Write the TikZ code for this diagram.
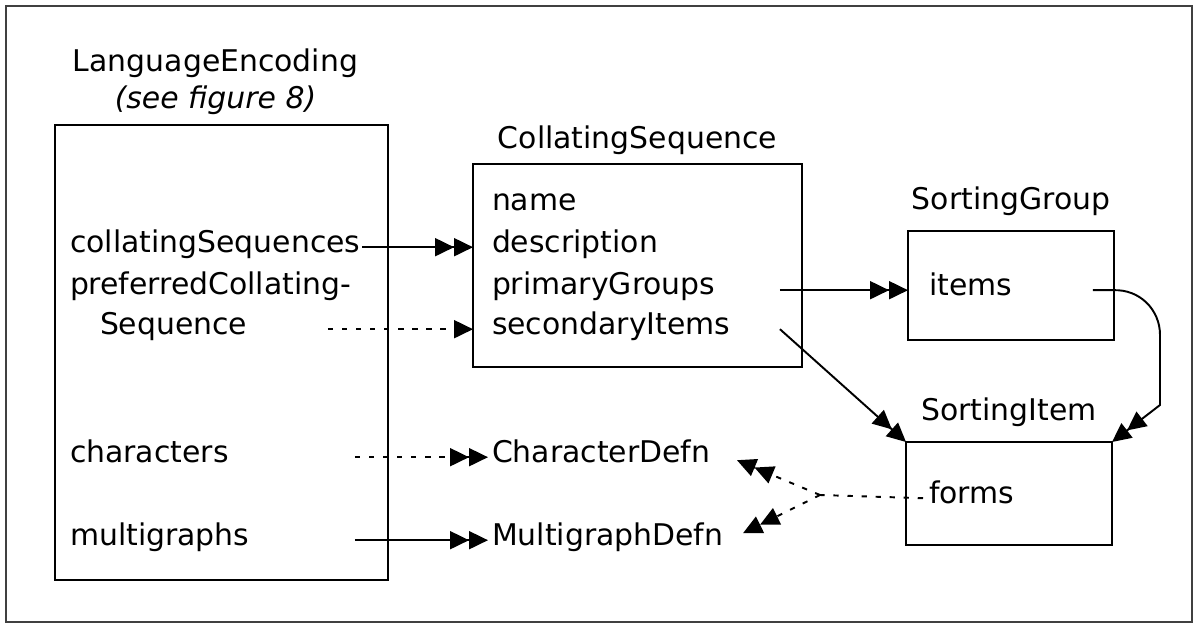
\documentclass[tikz,border=0pt]{standalone}
\usepackage{fontspec}
\setmainfont{DejaVu Sans}
\usetikzlibrary{arrows.meta,positioning,calc}

\begin{document}
\begin{tikzpicture}[x=0.02cm, y=-0.02cm,
  cls/.style={draw, line width=1.1pt, inner sep=0pt, outer sep=0pt},
  title/.style={inner sep=0pt, outer sep=0pt, align=center,
                font=\fontsize{17}{21}\selectfont},
  attr/.style={anchor=base west, inner sep=0pt, outer sep=0pt,
               font=\fontsize{17}{21}\selectfont},
  arr/.style={line width=1.1pt, -{Triangle[length=3.8mm,width=3.6mm]}},
  many/.style={line width=1.1pt,
               -{Triangle[length=3.8mm,width=3.6mm]Triangle[length=3.8mm,width=3.6mm]}},
  dots/.style={dash pattern=on 3pt off 5pt}]
\useasboundingbox (0,0) rectangle (1196,625);
\draw[line width=1.1pt, black!75] (6,6) rectangle (1192,622);

% class boxes
\node[cls, minimum width=6.66cm, minimum height=9.10cm] (lebox) at (221.5,352.5) {};
\node[cls, minimum width=6.58cm, minimum height=4.06cm] (csbox) at (637.5,265.5) {};
\node[cls, minimum width=4.12cm, minimum height=2.18cm] (sgbox) at (1011,285.5) {};
\node[cls, minimum width=4.12cm, minimum height=2.06cm] (sibox) at (1009,493.5) {};

% class names
\node[title, above=0.20cm of lebox, xshift=-0.12cm] (letitle) {LanguageEncoding\\\textit{(see figure 8)}};
\node[title, above=0.18cm of csbox] (cstitle) {CollatingSequence};
\node[title, above=0.30cm of sgbox] (sgtitle) {SortingGroup};
\node[title, above=0.30cm of sibox] (sititle) {SortingItem};

% attributes
\node[attr] (collseqs) at (70,252) {collatingSequences};
\node[attr] (prefcoll) at (70,294) {preferredCollating-};
\node[attr] (seqpart) at (100,334) {Sequence};
\node[attr] (chars) at (70,462) {characters};
\node[attr] (multis) at (70,545) {multigraphs};
\node[attr] (name) at (492,210) {name};
\node[attr] (description) at (492,252) {description};
\node[attr] (primary) at (492,294) {primaryGroups};
\node[attr] (secondary) at (492,334) {secondaryItems};
\node[attr] (items) at (929,295) {items};
\node[attr] (forms) at (929,503) {forms};
\node[attr] (chardefn) at (492,462) {CharacterDefn};
\node[attr] (multidefn) at (492,545) {MultigraphDefn};

\coordinate (bend) at (1160,335);
\coordinate (knee) at (1160,405);
\coordinate (split) at (820,495);

% links
\draw[many] ($(collseqs.mid east)+(2,0)$) -- (description.mid -| csbox.west);
\draw[arr, dots] ($(lebox.east |- seqpart.mid)+(-60,0)$) -- (secondary.mid -| csbox.west);
\draw[many] ($(csbox.east |- items.mid)+(-22,0)$) -- (items.mid -| sgbox.west);
\draw[many] ($(csbox.east |- secondary.mid)+(-22,0)$) -- (sibox.north west);
\draw[many] ($(sgbox.east |- items.mid)+(-21,0)$) -- ++(20,0)
  .. controls (1140,289) and (1160,310) .. (bend) -- (knee) -- (sibox.north east);
\draw[many, dots] ($(lebox.east |- chars.mid)+(-33,0)$) -- ($(chardefn.mid west)+(-4,0)$);
\draw[many] ($(lebox.east |- multis.mid)+(-33,0)$) -- ($(multidefn.mid west)+(-4,0)$);
\draw[line width=1.1pt, dots] ($(forms.mid west)+(-6,0)$) -- (split);
\draw[many, dots] (split) -- ($(chardefn.mid west)+(245,3)$);
\draw[many, dots] (split) -- ($(multidefn.mid west)+(251,-7)$);
\end{tikzpicture}
\end{document}
